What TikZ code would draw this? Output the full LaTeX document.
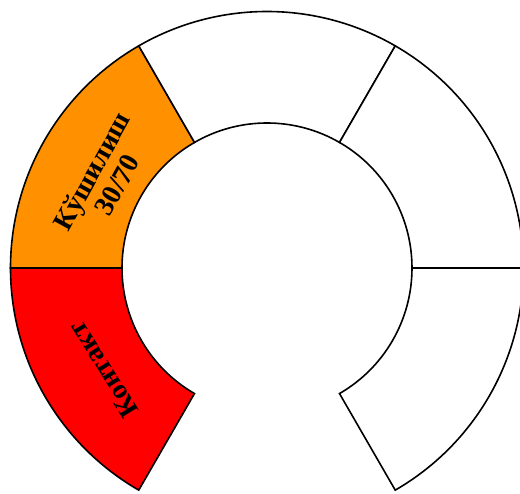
\documentclass[tikz,border=0pt]{standalone}
\usepackage{fontspec}
\setmainfont{Liberation Serif}
\definecolor{segorange}{RGB}{255,145,0}
\definecolor{segred}{RGB}{255,0,0}
\begin{document}
\begin{tikzpicture}[
      x=1pt, y=1pt,
      seg/.style={draw=black, line width=1.6pt, line join=miter},
      lbl/.style={font=\bfseries\fontsize{28}{29}\selectfont, align=center, inner sep=0pt}
    ]
    \useasboundingbox (-267,-226) rectangle (253,268);
    % ring segments, 60 degrees each
    \foreach \a/\b/\col in {180/240/segred, 120/180/segorange, 60/120/white, 0/60/white, -60/0/white}
      \draw[seg,fill=\col] (\a:145) arc[start angle=\a, end angle=\b, radius=145]
        -- (\b:256.5) arc[start angle=\b, end angle=\a, radius=256.5] -- cycle;
    \node[lbl, rotate=61] (join) at (151:186) {Кўшилиш\\30/70};
    \node[lbl, rotate=122] (contact) at (212:193) {Контакт};
\end{tikzpicture}
\end{document}
